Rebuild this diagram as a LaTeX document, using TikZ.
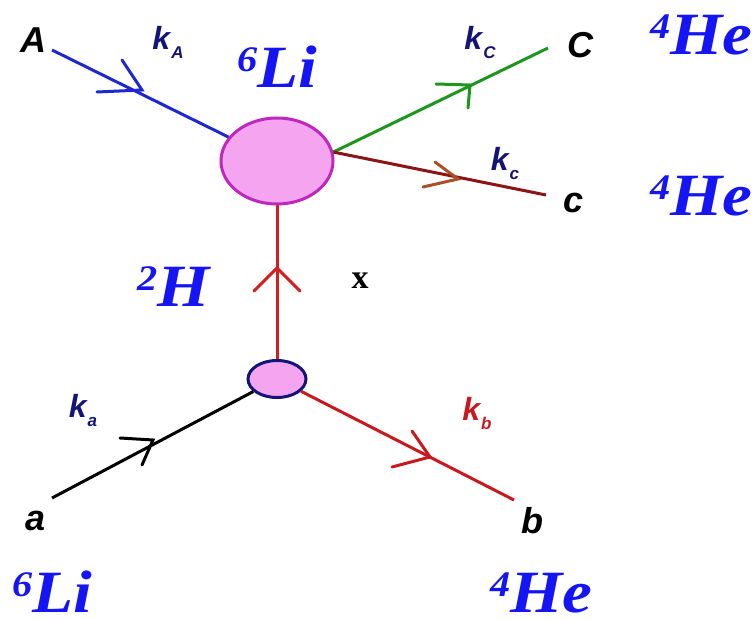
\documentclass[tikz,border=0pt]{standalone}
\usepackage{fontspec}
\setmainfont{Liberation Serif}
\newfontfamily\labfont{Liberation Sans}
\usetikzlibrary{shapes.geometric}
\definecolor{lineblue}{RGB}{30,40,210}
\definecolor{nucblue}{RGB}{20,20,245}
\definecolor{navy}{RGB}{20,20,120}
\definecolor{lgreen}{RGB}{30,150,30}
\definecolor{maroon}{RGB}{140,20,20}
\definecolor{brownarm}{RGB}{170,80,40}
\definecolor{xred}{RGB}{215,30,30}
\definecolor{bred}{RGB}{200,25,30}
\definecolor{pinkfill}{RGB}{245,165,240}
\definecolor{magborder}{RGB}{190,40,190}
\newcommand\nuc[2]{\raisebox{0pt}[\height][0pt]{\scalebox{1.12}[1]{\bfseries\itshape\fontsize{60}{60}\selectfont\raisebox{16pt}{\fontsize{36}{36}\selectfont #1}#2}}}
\newcommand\kl[2]{{\labfont\bfseries\itshape\fontsize{32}{32}\selectfont k\hspace{1pt}\raisebox{-9pt}{\fontsize{17}{17}\selectfont #2}}}
\begin{document}
\begin{tikzpicture}[x=1pt,y=-1pt,
  wire/.style={line width=3pt},
  barb/.style={line width=3pt,line join=miter,line cap=round},
  bigc/.style={ellipse,draw=magborder,fill=pinkfill,line width=3pt,minimum width=112pt,minimum height=86pt,inner sep=0pt},
  smallc/.style={ellipse,draw=navy,fill=pinkfill,line width=3pt,minimum width=58pt,minimum height=37pt,inner sep=0pt},
  endlab/.style={font=\labfont\bfseries\itshape\fontsize{36}{36}\selectfont,text=black,inner sep=0pt},
  nuclab/.style={text=nucblue,inner sep=0pt,anchor=base west},
  klab/.style={inner sep=0pt}
]
\useasboundingbox (0,0) rectangle (754,620);
\node[bigc] (big) at (277,161) {};
\node[smallc] (small) at (277,379) {};
\coordinate (Aend) at (52,50);
\coordinate (Cend) at (548,48);
\coordinate (cend) at (546,195);
\coordinate (aend) at (52,498);
\coordinate (bend) at (514,500);

\draw[wire,lineblue] (Aend) -- (big);
\draw[wire,lgreen] (big.9) -- (Cend);
\draw[wire,maroon] (big.9) -- (cend);
\draw[wire,xred] (small) -- (big);
\draw[wire,black] (aend) -- (small);
\draw[wire,bred] (small) -- (bend);

% arrow barbs
\draw[barb,lineblue] (97,92) -- (142,90) -- (122,60);
\draw[barb,lgreen] (436,84) -- (470,85) -- (468,108);
\draw[barb,brownarm] (423,187) -- (458,179) -- (435,162);
\draw[barb,xred] (254,291) -- (277,268) -- (300,291);
\draw[barb,black] (120,438) -- (153,440) -- (142,465);
\draw[barb,bred] (392,467) -- (430,457) -- (412,431);

\node[endlab] (A) at (33,40) {A};
\node[endlab] (C) at (580,45) {C};
\node[endlab] (c) at (574,203) {c};
\node[endlab] (a) at (36,521) {a};
\node[endlab] (b) at (532,521) {b};

\node[klab,text=navy] (kA) at (168,42) {\kl{k}{A}};
\node[klab,text=navy] (kC) at (480,42) {\kl{k}{C}};
\node[klab,text=navy] (kc) at (505,163) {\kl{k}{c}};
\node[klab,text=navy] (ka) at (83,410) {\kl{k}{a}};
\node[klab,text=bred] (kb) at (477,413) {\kl{k}{b}};

\node[nuclab] (Li1) at (237,88) {\nuc{6}{Li}};
\node[nuclab] (He1) at (650,55) {\nuc{4}{He}};
\node[nuclab] (He2) at (650,215) {\nuc{4}{He}};
\node[nuclab] (H2) at (137,306) {\nuc{2}{H}};
\node[nuclab] (Li2) at (12,612) {\nuc{6}{Li}};
\node[nuclab] (He3) at (490,612) {\nuc{4}{He}};
\node[inner sep=0pt,font=\bfseries\fontsize{34}{34}\selectfont] (xl) at (360,281) {x};
\end{tikzpicture}
\end{document}
